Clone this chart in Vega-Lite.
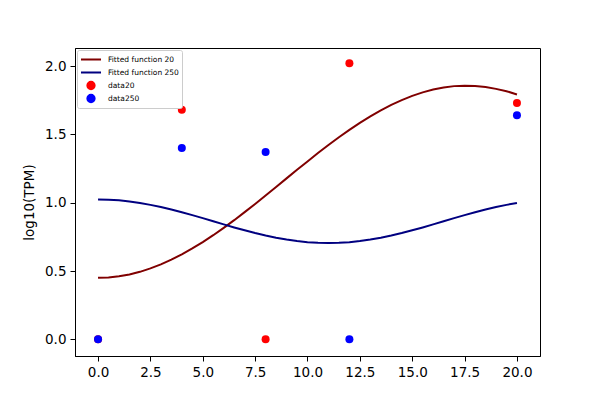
{
  "$schema": "https://vega.github.io/schema/vega-lite/v6.json",
  "width": 465,
  "height": 308,
  "autosize": {"type": "none"},
  "padding": {"left": 75, "top": 48, "right": 60, "bottom": 44},
  "background": "white",
  "config": {
    "font": "DejaVu Sans",
    "view": {"stroke": "black", "strokeWidth": 1},
    "axis": {
      "grid": false,
      "domainColor": "black",
      "tickColor": "black",
      "tickSize": 5,
      "labelColor": "black",
      "labelFontSize": 13.5,
      "labelPadding": 4,
      "titleFontSize": 13.5,
      "titleFontWeight": "normal",
      "titleColor": "black"
    }
  },
  "datasets": {
    "curves": [
      {"series": "Fitted function 20", "x": 0, "y": 0.450},
      {"series": "Fitted function 20", "x": 0.5, "y": 0.453},
      {"series": "Fitted function 20", "x": 1, "y": 0.461},
      {"series": "Fitted function 20", "x": 1.5, "y": 0.475},
      {"series": "Fitted function 20", "x": 2, "y": 0.494},
      {"series": "Fitted function 20", "x": 2.5, "y": 0.519},
      {"series": "Fitted function 20", "x": 3, "y": 0.548},
      {"series": "Fitted function 20", "x": 3.5, "y": 0.583},
      {"series": "Fitted function 20", "x": 4, "y": 0.622},
      {"series": "Fitted function 20", "x": 4.5, "y": 0.665},
      {"series": "Fitted function 20", "x": 5, "y": 0.712},
      {"series": "Fitted function 20", "x": 5.5, "y": 0.762},
      {"series": "Fitted function 20", "x": 6, "y": 0.816},
      {"series": "Fitted function 20", "x": 6.5, "y": 0.872},
      {"series": "Fitted function 20", "x": 7, "y": 0.931},
      {"series": "Fitted function 20", "x": 7.5, "y": 0.991},
      {"series": "Fitted function 20", "x": 8, "y": 1.053},
      {"series": "Fitted function 20", "x": 8.5, "y": 1.115},
      {"series": "Fitted function 20", "x": 9, "y": 1.178},
      {"series": "Fitted function 20", "x": 9.5, "y": 1.241},
      {"series": "Fitted function 20", "x": 10, "y": 1.302},
      {"series": "Fitted function 20", "x": 10.5, "y": 1.363},
      {"series": "Fitted function 20", "x": 11, "y": 1.422},
      {"series": "Fitted function 20", "x": 11.5, "y": 1.479},
      {"series": "Fitted function 20", "x": 12, "y": 1.533},
      {"series": "Fitted function 20", "x": 12.5, "y": 1.584},
      {"series": "Fitted function 20", "x": 13, "y": 1.632},
      {"series": "Fitted function 20", "x": 13.5, "y": 1.676},
      {"series": "Fitted function 20", "x": 14, "y": 1.716},
      {"series": "Fitted function 20", "x": 14.5, "y": 1.751},
      {"series": "Fitted function 20", "x": 15, "y": 1.782},
      {"series": "Fitted function 20", "x": 15.5, "y": 1.807},
      {"series": "Fitted function 20", "x": 16, "y": 1.828},
      {"series": "Fitted function 20", "x": 16.5, "y": 1.843},
      {"series": "Fitted function 20", "x": 17, "y": 1.853},
      {"series": "Fitted function 20", "x": 17.5, "y": 1.856},
      {"series": "Fitted function 20", "x": 18, "y": 1.854},
      {"series": "Fitted function 20", "x": 18.5, "y": 1.847},
      {"series": "Fitted function 20", "x": 19, "y": 1.833},
      {"series": "Fitted function 20", "x": 19.5, "y": 1.816},
      {"series": "Fitted function 20", "x": 20, "y": 1.792},
      {"series": "Fitted function 250", "x": 0, "y": 1.023},
      {"series": "Fitted function 250", "x": 0.5, "y": 1.021},
      {"series": "Fitted function 250", "x": 1, "y": 1.017},
      {"series": "Fitted function 250", "x": 1.5, "y": 1.009},
      {"series": "Fitted function 250", "x": 2, "y": 0.998},
      {"series": "Fitted function 250", "x": 2.5, "y": 0.984},
      {"series": "Fitted function 250", "x": 3, "y": 0.968},
      {"series": "Fitted function 250", "x": 3.5, "y": 0.950},
      {"series": "Fitted function 250", "x": 4, "y": 0.930},
      {"series": "Fitted function 250", "x": 4.5, "y": 0.909},
      {"series": "Fitted function 250", "x": 5, "y": 0.887},
      {"series": "Fitted function 250", "x": 5.5, "y": 0.864},
      {"series": "Fitted function 250", "x": 6, "y": 0.841},
      {"series": "Fitted function 250", "x": 6.5, "y": 0.819},
      {"series": "Fitted function 250", "x": 7, "y": 0.798},
      {"series": "Fitted function 250", "x": 7.5, "y": 0.778},
      {"series": "Fitted function 250", "x": 8, "y": 0.760},
      {"series": "Fitted function 250", "x": 8.5, "y": 0.744},
      {"series": "Fitted function 250", "x": 9, "y": 0.730},
      {"series": "Fitted function 250", "x": 9.5, "y": 0.719},
      {"series": "Fitted function 250", "x": 10, "y": 0.711},
      {"series": "Fitted function 250", "x": 10.5, "y": 0.707},
      {"series": "Fitted function 250", "x": 11, "y": 0.705},
      {"series": "Fitted function 250", "x": 11.5, "y": 0.707},
      {"series": "Fitted function 250", "x": 12, "y": 0.711},
      {"series": "Fitted function 250", "x": 12.5, "y": 0.719},
      {"series": "Fitted function 250", "x": 13, "y": 0.730},
      {"series": "Fitted function 250", "x": 13.5, "y": 0.744},
      {"series": "Fitted function 250", "x": 14, "y": 0.760},
      {"series": "Fitted function 250", "x": 14.5, "y": 0.778},
      {"series": "Fitted function 250", "x": 15, "y": 0.798},
      {"series": "Fitted function 250", "x": 15.5, "y": 0.819},
      {"series": "Fitted function 250", "x": 16, "y": 0.841},
      {"series": "Fitted function 250", "x": 16.5, "y": 0.864},
      {"series": "Fitted function 250", "x": 17, "y": 0.887},
      {"series": "Fitted function 250", "x": 17.5, "y": 0.909},
      {"series": "Fitted function 250", "x": 18, "y": 0.930},
      {"series": "Fitted function 250", "x": 18.5, "y": 0.950},
      {"series": "Fitted function 250", "x": 19, "y": 0.968},
      {"series": "Fitted function 250", "x": 19.5, "y": 0.984},
      {"series": "Fitted function 250", "x": 20, "y": 0.998}
    ],
    "points": [
      {"series": "data20", "x": 0, "y": 0},
      {"series": "data20", "x": 4, "y": 1.68},
      {"series": "data20", "x": 8, "y": 0},
      {"series": "data20", "x": 12, "y": 2.02},
      {"series": "data20", "x": 20, "y": 1.73},
      {"series": "data250", "x": 0, "y": 0},
      {"series": "data250", "x": 4, "y": 1.40},
      {"series": "data250", "x": 8, "y": 1.37},
      {"series": "data250", "x": 12, "y": 0},
      {"series": "data250", "x": 20, "y": 1.64}
    ]
  },
  "encoding": {
    "x": {
      "field": "x",
      "type": "quantitative",
      "scale": {"domain": [-1.1, 21.1], "nice": false, "zero": false},
      "axis": {"title": null, "values": [0, 2.5, 5, 7.5, 10, 12.5, 15, 17.5, 20], "format": ".1f"}
    },
    "y": {
      "field": "y",
      "type": "quantitative",
      "scale": {"domain": [-0.122, 2.132], "nice": false, "zero": false},
      "axis": {"title": "log10(TPM)", "values": [0, 0.5, 1, 1.5, 2], "format": ".1f", "titlePadding": 8}
    }
  },
  "layer": [
    {
      "data": {"name": "curves"},
      "mark": {"type": "line", "strokeWidth": 2},
      "encoding": {
        "detail": {"field": "series"},
        "color": {
          "field": "series",
          "type": "nominal",
          "scale": {
            "domain": ["Fitted function 20", "Fitted function 250", "data20", "data250"],
            "range": ["#800000", "#000080", "#ff0000", "#0000ff"]
          }
        }
      }
    },
    {
      "data": {"name": "points"},
      "mark": {"type": "point", "filled": true, "opacity": 1, "size": 64},
      "encoding": {
        "color": {
          "field": "series",
          "type": "nominal",
          "legend": {
            "title": null,
            "orient": "top-left",
            "offset": 2,
            "padding": 3,
            "fillColor": "white",
            "strokeColor": "#cccccc",
            "cornerRadius": 2,
            "labelFontSize": 7.5,
            "labelColor": "black",
            "labelOffset": 12,
            "symbolOffset": 6,
            "symbolSize": 53,
            "symbolStrokeWidth": 2,
            "clipHeight": 13,
            "rowPadding": 0,
            "encode": {
              "symbols": {
                "update": {
                  "stroke": {"scale": "color", "field": "value"},
                  "strokeWidth": {"value": 2},
                  "opacity": {"value": 1}
                }
              }
            }
          }
        },
        "shape": {
          "field": "series",
          "type": "nominal",
          "scale": {
            "domain": ["Fitted function 20", "Fitted function 250", "data20", "data250"],
            "range": ["M-2.75,0H2.75", "M-2.75,0H2.75", "circle", "circle"]
          }
        }
      }
    }
  ]
}
